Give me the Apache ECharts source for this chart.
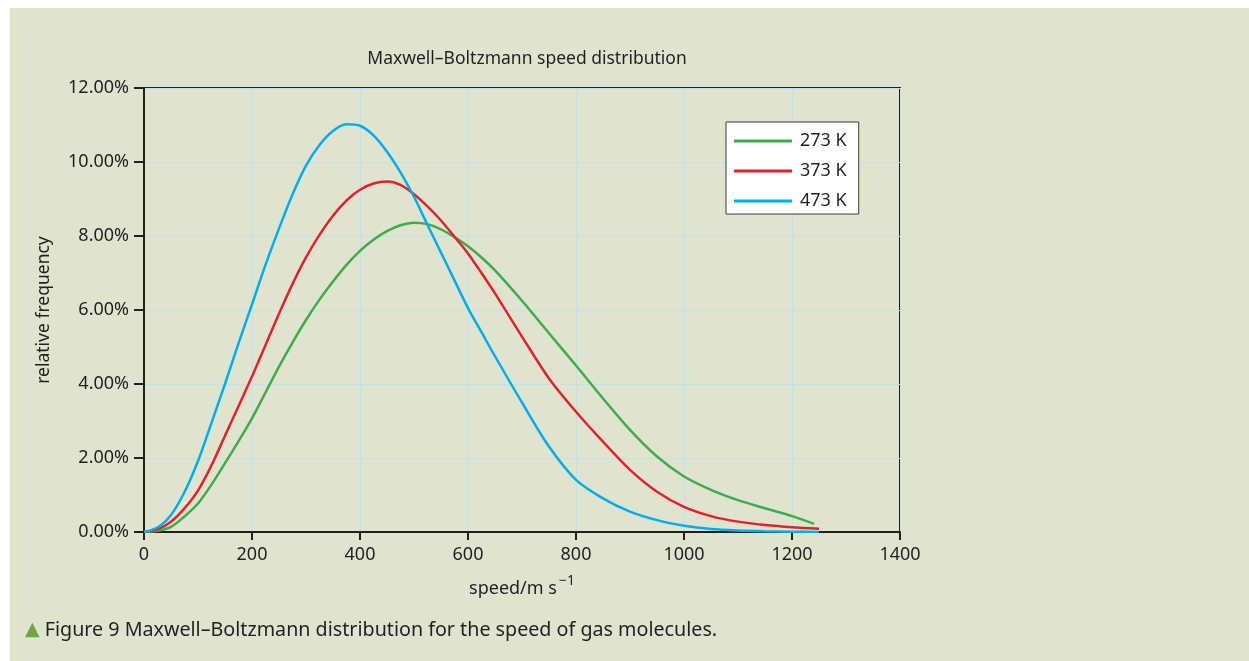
<!DOCTYPE html>
<html>
<head>
<meta charset="utf-8">
<script src="https://cdn.jsdelivr.net/npm/echarts@6/dist/echarts.min.js"></script>
<style>
html,body{margin:0;padding:0;background:#ffffff;}
#wrap{position:absolute;left:10px;top:8px;width:1239px;height:653px;background:#e0e4cf;}
#chart{position:absolute;left:0;top:0;width:1249px;height:661px;}
</style>
</head>
<body>
<div id="wrap"></div>
<div id="chart"></div>
<script>
// ---- data ----
const seriesNames = ['273 K', '373 K', '473 K'];
const speeds = [0,25,50,75,100,125,150,175,200,225,250,275,300,325,350,375,400,425,450,475,500,525,550,575,600,625,650,700,750,800,850,900,950,1000,1050,1100,1150,1200,1250];
const speeds273 = [0,25,50,75,100,125,150,175,200,225,250,275,300,325,350,375,400,425,450,475,500,525,550,575,600,625,650,700,750,800,850,900,950,1000,1050,1100,1150,1200,1241];
const freq273 = [0,0.03,0.14,0.42,0.77,1.28,1.86,2.45,3.07,3.77,4.47,5.12,5.73,6.28,6.77,7.22,7.6,7.9,8.13,8.29,8.36,8.32,8.18,7.97,7.72,7.42,7.07,6.25,5.37,4.5,3.61,2.76,2.04,1.5,1.14,0.86,0.64,0.43,0.22];
const freq373 = [0,0.07,0.28,0.64,1.12,1.8,2.6,3.4,4.2,5.05,5.9,6.7,7.42,8.03,8.55,8.96,9.25,9.42,9.47,9.38,9.13,8.8,8.42,7.98,7.53,7.0,6.45,5.28,4.15,3.25,2.44,1.68,1.09,0.68,0.43,0.28,0.19,0.13,0.09];
const freq473 = [0,0.12,0.46,1.08,1.92,2.95,4.0,5.1,6.15,7.22,8.2,9.12,9.9,10.46,10.84,11.02,10.98,10.72,10.28,9.72,9.06,8.3,7.55,6.8,6.05,5.4,4.75,3.5,2.31,1.41,0.91,0.55,0.32,0.17,0.08,0.04,0.02,0.01,0.0];
const yTicks = [0,2,4,6,8,10,12];
const xTicks = [0,200,400,600,800,1000,1200,1400];
const colors = ['#3dad4a', '#e6202a', '#00aeef'];

const pairs = (xs, ys) => xs.map((x, i) => [x, ys[i]]);
const dataSets = [pairs(speeds273, freq273), pairs(speeds, freq373), pairs(speeds, freq473)];

const FONT = 'Noto Sans';
const TXT = '#231f20';

const chart = echarts.init(document.getElementById('chart'), null, {renderer: 'canvas'});
chart.setOption({
  backgroundColor: 'transparent',
  animation: false,
  textStyle: {fontFamily: FONT, color: TXT},
  title: {
    text: 'Maxwell–Boltzmann speed distribution',
    left: 522, top: 45, textAlign: 'center',
    textStyle: {fontFamily: FONT, fontSize: 17.5, fontWeight: 'normal', color: TXT}
  },
  grid: {
    left: 144, right: 349, top: 88, bottom: 129,
    show: true, borderColor: TXT, borderWidth: 2, backgroundColor: 'transparent'
  },
  legend: {
    orient: 'vertical', left: 726, top: 122,
    backgroundColor: '#ffffff', borderColor: '#3a3a3a', borderWidth: 1, borderRadius: 0,
    padding: [10, 12, 4, 8],
    itemWidth: 58, itemHeight: 3, itemGap: 12,
    icon: 'rect',
    data: seriesNames,
    textStyle: {fontFamily: FONT, fontSize: 18, color: TXT, padding: [0, 0, 0, 3]}
  },
  xAxis: {
    type: 'value', min: 0, max: 1400, interval: 200,
    name: '{a|speed/m s}{b|−1}',
    nameLocation: 'middle', nameGap: 42,
    nameTextStyle: {
      rich: {
        a: {fontFamily: FONT, fontSize: 18, color: TXT, verticalAlign: 'bottom', lineHeight: 24},
        b: {fontFamily: FONT, fontSize: 14, color: TXT, verticalAlign: 'top', lineHeight: 24, padding: [0,0,11,2]}
      }
    },
    axisLine: {show: true, onZero: false, lineStyle: {color: TXT, width: 2}},
    axisTick: {show: true, inside: false, length: 8, lineStyle: {color: TXT, width: 2}},
    axisLabel: {fontFamily: FONT, fontSize: 18, color: TXT, margin: 14,
      formatter: v => xTicks.includes(v) ? String(v) : ''},
    splitLine: {show: true, lineStyle: {color: '#b9e5f3', width: 1}}
  },
  yAxis: {
    type: 'value', min: 0, max: 12, interval: 2,
    name: 'relative frequency',
    nameLocation: 'middle', nameGap: 91, nameRotate: 90,
    nameTextStyle: {fontFamily: FONT, fontSize: 17.5, color: TXT},
    axisLine: {show: true, lineStyle: {color: TXT, width: 2}},
    axisTick: {show: true, inside: false, length: 10, lineStyle: {color: TXT, width: 2}},
    axisLabel: {fontFamily: FONT, fontSize: 18, color: TXT, margin: 15,
      formatter: v => yTicks.includes(v) ? v.toFixed(2) + '%' : ''},
    splitLine: {show: true, lineStyle: {color: '#b9e5f3', width: 1}}
  },
  series: seriesNames.map((n, i) => ({
    name: n, type: 'line', data: dataSets[i], smooth: 0.3,
    showSymbol: false, symbol: 'none',
    lineStyle: {color: colors[i], width: 2.5},
    itemStyle: {color: colors[i]},
    z: 3 + i
  })),
  graphic: [{
    type: 'text', left: 25, top: 620,
    style: {
      text: '{t|▲}{c| Figure 9 Maxwell–Boltzmann distribution for the speed of gas molecules.}',
      rich: {
        t: {fontFamily: 'DejaVu Sans', fontSize: 19, fill: '#6fa644', color: '#6fa644'},
        c: {fontFamily: FONT, fontSize: 19.7, fill: TXT, color: TXT}
      }
    }
  }]
});
</script>
</body>
</html>
